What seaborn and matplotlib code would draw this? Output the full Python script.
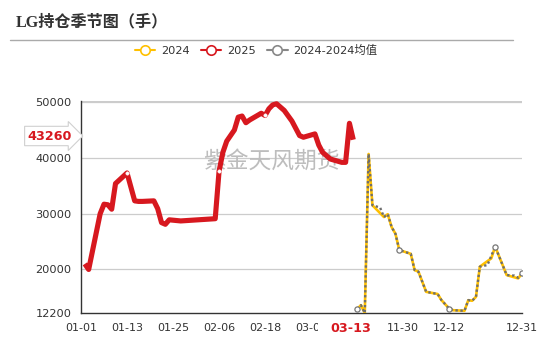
import numpy as np
import pandas as pd
import matplotlib
matplotlib.use("Agg")
import matplotlib.pyplot as plt
import seaborn as sns
from matplotlib.lines import Line2D
from matplotlib.patches import Rectangle

# ---------------- data ----------------
title = "LG持仓季节图（手）"
watermark = "紫金天风期货"
series_names = ["2024", "2025", "2024-2024均值"]

# category axis (MM-DD) : Jan 1 - Mar 13, Nov 18 - Dec 31
cat_ranges = [("01", 1, 31), ("02", 1, 28), ("03", 1, 13), ("11", 18, 30), ("12", 1, 31)]
categories = [f"{m}-{d:02d}" for m, a, b in cat_ranges for d in range(a, b + 1)]

dates_2025 = ["01-02", "01-03", "01-06", "01-07", "01-08", "01-09", "01-10", "01-13",
              "01-15", "01-16", "01-17", "01-20", "01-21", "01-22", "01-23", "01-24",
              "01-27", "02-05", "02-06", "02-07", "02-08", "02-10", "02-11", "02-12",
              "02-13", "02-14", "02-17", "02-18", "02-19", "02-20", "02-21", "02-23",
              "02-25", "02-27", "02-28", "03-03", "03-04", "03-05", "03-06", "03-07",
              "03-10", "03-11", "03-12", "03-13"]
vals_2025 = [21000, 20000, 30000, 31700, 31600, 30800, 35400, 37300,
             32300, 32200, 32200, 32300, 30900, 28400, 28100, 28900,
             28700, 29100, 37600, 41000, 43000, 45000, 47300, 47500,
             46300, 46800, 48000, 47600, 48800, 49500, 49700, 48500,
             46600, 44000, 43700, 44300, 42300, 41000, 40400, 39800,
             39200, 39200, 46200, 43260]

dates_2024 = ["11-18", "11-19", "11-20", "11-21", "11-22", "11-25", "11-26", "11-27",
              "11-28", "11-29", "12-02", "12-03", "12-04", "12-06", "12-09", "12-10",
              "12-12", "12-13", "12-16", "12-17", "12-18", "12-19", "12-20", "12-23",
              "12-24", "12-27", "12-30", "12-31"]
vals_2024 = [12900, 13600, 12200, 40700, 31500, 29400, 29900, 27600,
             26400, 23500, 22800, 19900, 19600, 16000, 15600, 14500,
             13000, 12700, 12600, 14500, 14400, 15100, 20500, 22000,
             24100, 19000, 18400, 19300]

dates_avg = ["11-18", "11-19", "11-20", "11-21", "11-22", "11-24", "11-25", "11-26",
             "11-27", "11-28", "11-29", "12-02", "12-03", "12-04", "12-06", "12-09",
             "12-10", "12-12", "12-13", "12-16", "12-17", "12-18", "12-19", "12-20",
             "12-22", "12-24", "12-27", "12-29", "12-30", "12-31"]
vals_avg = [12900, 13600, 12200, 40700, 31500, 31100, 29400, 29900,
            27600, 26400, 23500, 22800, 19900, 19600, 16000, 15600,
            14500, 13000, 12700, 12600, 14500, 14400, 15100, 20500,
            20800, 24100, 19000, 18900, 18500, 19300]
avg_marker_dates = ["11-18", "11-29", "12-12", "12-24", "12-31"]
red_marker_dates = ["01-13", "02-06", "02-18"]

tick_dates = ["01-01", "01-13", "01-25", "02-06", "02-18", "03-02", "11-18", "11-30", "12-12", "12-31"]
hidden_tick_labels = ["11-18"]
y_ticks = [12200, 20000, 30000, 40000, 50000]
pointer_x_label = "03-13"
pointer_y_value = 43260

# ---------------- style ----------------
RED = "#D7181F"
GOLD = "#FFC000"
GRAY = "#6E6E6E"
TXT = "#333333"

sns.set_theme(style="white")
plt.rcParams["font.family"] = ["DejaVu Sans", "Noto Sans CJK SC"]

W, H = 542, 340
fig = plt.figure(figsize=(W / 100, H / 100), dpi=100)
L, R, T, B = 81, 522, 100.7, 313
ax = fig.add_axes([L / W, 1 - B / H, (R - L) / W, (B - T) / H])

pos = {c: i for i, c in enumerate(categories)}
df25 = pd.DataFrame({"x": [pos[d] for d in dates_2025], "y": vals_2025})
df24 = pd.DataFrame({"x": [pos[d] for d in dates_2024], "y": vals_2024})
dfavg = pd.DataFrame({"x": [pos[d] for d in dates_avg], "y": vals_avg})

sns.lineplot(data=df24, x="x", y="y", ax=ax, color=GOLD, linewidth=1.9,
             estimator=None, sort=False, zorder=3, solid_joinstyle="round")
sns.lineplot(data=dfavg, x="x", y="y", ax=ax, color=GRAY, linewidth=1.7,
             estimator=None, sort=False, zorder=4, linestyle=(0, (1, 1.1)))
sns.lineplot(data=df25, x="x", y="y", ax=ax, color=RED, linewidth=3.7,
             estimator=None, sort=False, zorder=5, solid_joinstyle="round",
             solid_capstyle="butt")

mk_avg = dfavg[dfavg["x"].isin([pos[d] for d in avg_marker_dates])]
sns.scatterplot(data=mk_avg, x="x", y="y", ax=ax, s=14, facecolor="white",
                edgecolor="#777777", linewidth=0.9, zorder=6)
mk_red = df25[df25["x"].isin([pos[d] for d in red_marker_dates])]
sns.scatterplot(data=mk_red, x="x", y="y", ax=ax, s=6, facecolor="white",
                edgecolor="white", linewidth=0.3, zorder=7)

ax.set_xlim(0, len(categories) - 1)
ax.set_ylim(12200, 50250)
ax.set_yticks(y_ticks)
ax.set_yticklabels([str(v) for v in y_ticks], fontsize=8.2, color=TXT)
tick_pos = [pos[d] for d in tick_dates]
ax.set_xticks(tick_pos)
ax.set_xticklabels(["" if d in hidden_tick_labels else d for d in tick_dates],
                   fontsize=8.0, color=TXT)
ax.set_xlabel("")
ax.set_ylabel("")
ax.tick_params(axis="both", which="both", direction="out", length=4, width=1,
               color="#333333", pad=3)

for v in y_ticks[1:]:
    ax.axhline(v, color="#CCCCCC", lw=0.9, zorder=1)
for s in ["top", "right"]:
    ax.spines[s].set_visible(False)
ax.axhline(50250, color="#CCCCCC", lw=0.9, zorder=1)
ax.spines["left"].set_color("#333333")
ax.spines["bottom"].set_color("#333333")
ax.spines["left"].set_linewidth(1)
ax.spines["bottom"].set_linewidth(1)
ax.grid(False)

# watermark (inside axes, beneath the lines)
ax.text(271 / W, 1 - 161 / H, watermark, fontsize=16.4, color="#BDBDBD",
        ha="center", va="center", family=["Noto Sans CJK SC"], zorder=2,
        transform=fig.transFigure)

# title + rule
fig.text(16 / W, 1 - 22 / H, title, fontsize=11.6, fontweight="bold", color=TXT,
         ha="left", va="center", family=["Liberation Serif", "Noto Sans CJK SC"])
fig.add_artist(Line2D([10 / W, 513 / W], [1 - 40 / H, 1 - 40 / H],
                      color="#AAAAAA", lw=1.0))

# legend
handles = [
    Line2D([0], [0], color=GOLD, lw=1.5, marker="o", ms=6.8, mfc="white", mec=GOLD, mew=1.2),
    Line2D([0], [0], color=RED, lw=1.5, marker="o", ms=6.8, mfc="white", mec=RED, mew=1.2),
    Line2D([0], [0], color="#888888", lw=1.5, marker="o", ms=6.8, mfc="white", mec="#888888", mew=1.2),
]
leg = fig.legend(handles, series_names, loc="center", bbox_to_anchor=(256 / W, 1 - 50 / H),
                 ncol=3, frameon=False, handlelength=1.8, handletextpad=0.5,
                 columnspacing=1.0, prop={"family": ["DejaVu Sans", "Noto Sans CJK SC"], "size": 8.2})
for t in leg.get_texts():
    t.set_color(TXT)

# axis pointer labels
fig.add_artist(Rectangle((318 / W, 0), 65 / W, (H - 316) / H, transform=fig.transFigure,
                         facecolor="white", edgecolor="none", zorder=10))
fig.text(351 / W, 1 - 328 / H, pointer_x_label, fontsize=9.2, fontweight="bold", color=RED,
         ha="center", va="center", zorder=11)
fig.text(50 / W, 1 - 136 / H, str(pointer_y_value), fontsize=9.2, fontweight="bold", color=RED,
         ha="center", va="center", zorder=11,
         bbox=dict(boxstyle="rarrow,pad=0.25", facecolor="white", edgecolor="#D0D0D0", lw=0.8))

fig.savefig("out.png", dpi=100)
